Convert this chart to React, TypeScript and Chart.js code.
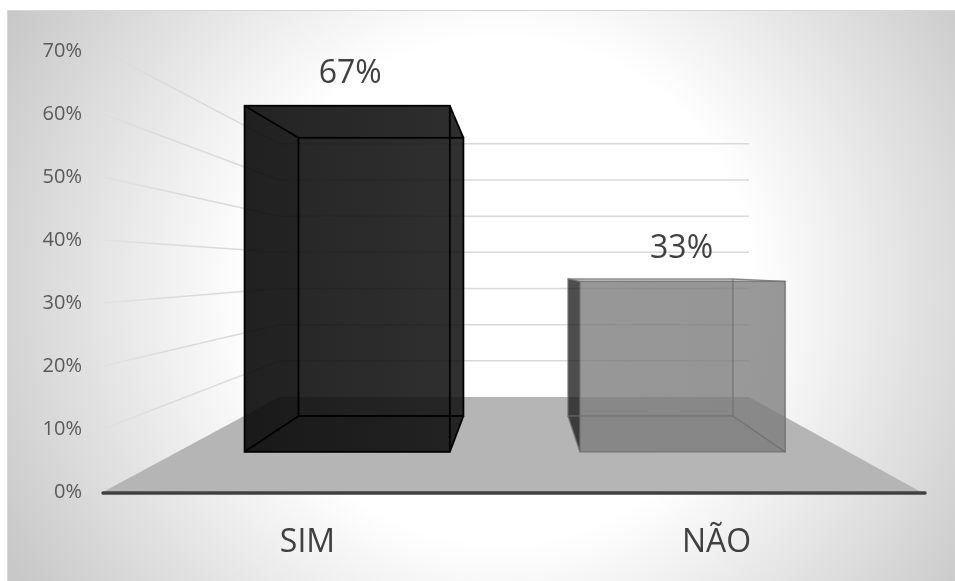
import React, { useEffect, useRef } from "react";
import { Chart, registerables } from "chart.js";

Chart.register(...registerables);

// Survey result shown as two perspective columns.
const categories = ["SIM", "NÃO"];
const shares = [67, 33];
const shareLabels = ["67%", "33%"];

const WIDTH = 955;
const HEIGHT = 581;
const FONT = '"Open Sans", sans-serif';

// Perspective set-up: every point is pulled towards the vanishing point by a depth factor.
const VANISH_X = 517;
const VANISH_Y = 269;
const DEPTH_WALL = 0.574;
const DEPTH_BAR_FRONT = 0.82;
const DEPTH_BAR_BACK = 0.659;
const BAR_SHIFT = 2;
const LABEL_NUDGE = [3, -1];

type Pt = [number, number];
const project = (x: number, y: number, k: number, shift = 0): Pt => [
  VANISH_X + (x - VANISH_X) * k + shift,
  VANISH_Y + (y - VANISH_Y) * k,
];

function fillPoly(ctx: CanvasRenderingContext2D, pts: Pt[], fill: string | CanvasGradient) {
  ctx.beginPath();
  pts.forEach((p, i) => (i ? ctx.lineTo(p[0], p[1]) : ctx.moveTo(p[0], p[1])));
  ctx.closePath();
  ctx.fillStyle = fill;
  ctx.fill();
}

function strokeLine(ctx: CanvasRenderingContext2D, a: Pt, b: Pt) {
  ctx.beginPath();
  ctx.moveTo(a[0], a[1]);
  ctx.lineTo(b[0], b[1]);
  ctx.stroke();
}

type BarStyle = {
  back: string;
  bottom: string;
  top: string;
  left: string;
  right: string;
  frontFrom: string;
  frontTo: string;
  edge: string;
  edgeWidth: number;
};

const barStyles: BarStyle[] = [
  {
    back: "rgba(0,0,0,0.4)",
    bottom: "rgba(0,0,0,0.5)",
    top: "rgba(40,40,40,0.5)",
    left: "rgba(10,10,10,0.5)",
    right: "rgba(24,24,24,0.82)",
    frontFrom: "rgba(8,8,8,0.8)",
    frontTo: "rgba(20,20,20,0.8)",
    edge: "#000000",
    edgeWidth: 1.8,
  },
  {
    back: "rgba(110,110,110,0.2)",
    bottom: "rgba(90,90,90,0.18)",
    top: "rgba(110,110,110,0.2)",
    left: "rgba(20,20,20,0.72)",
    right: "rgba(110,110,110,0.1)",
    frontFrom: "rgba(125,125,125,0.74)",
    frontTo: "rgba(125,125,125,0.76)",
    edge: "rgba(110,110,110,0.8)",
    edgeWidth: 1.4,
  },
];

const perspectivePlugin = {
  id: "perspective",
  beforeDraw(chart: any) {
    const { ctx } = chart;
    ctx.save();
    const g = ctx.createRadialGradient(500, 290, 0, 500, 290, 560);
    g.addColorStop(0, "#ffffff");
    g.addColorStop(0.45, "#ffffff");
    g.addColorStop(1, "#c8c8c8");
    ctx.fillStyle = "#ffffff";
    ctx.fillRect(0, 0, WIDTH, HEIGHT);
    ctx.fillStyle = g;
    ctx.fillRect(7, 10, WIDTH - 7, HEIGHT - 10);
    ctx.fillStyle = "#d6d6d6";
    ctx.fillRect(7, 10, WIDTH - 7, 1);
    ctx.fillRect(7, 10, 1, HEIGHT - 10);
    ctx.restore();
  },
  beforeDatasetsDraw(chart: any) {
    const { ctx, chartArea, scales } = chart;
    const yScale = scales.y;
    const floorY = yScale.getPixelForValue(0);
    ctx.save();

    // Floor of the box
    fillPoly(ctx, [
      [chartArea.left, floorY],
      [chartArea.right, floorY],
      project(chartArea.right, floorY, DEPTH_WALL),
      project(chartArea.left, floorY, DEPTH_WALL),
    ], "#b5b5b5");

    // Gridlines on the side wall and on the back wall
    ctx.lineWidth = 1.5;
    yScale.ticks.forEach((tick: any) => {
      if (tick.value === 0) return;
      const y = yScale.getPixelForValue(tick.value);
      const a: Pt = [chartArea.left, y];
      const b = project(chartArea.left, y, DEPTH_WALL);
      const c = project(chartArea.right, y, DEPTH_WALL);
      const fade = ctx.createLinearGradient(a[0], a[1], b[0], b[1]);
      fade.addColorStop(0, "rgba(217,217,217,0.3)");
      fade.addColorStop(0.35, "rgba(217,217,217,0.9)");
      fade.addColorStop(1, "rgba(217,217,217,1)");
      ctx.strokeStyle = fade;
      strokeLine(ctx, a, b);
      ctx.strokeStyle = "#d9d9d9";
      strokeLine(ctx, b, c);
    });
    ctx.restore();
  },
  afterDatasetsDraw(chart: any) {
    const { ctx, chartArea, scales } = chart;
    const floorY = scales.y.getPixelForValue(0);
    const bars = chart.getDatasetMeta(0).data;
    ctx.save();

    bars.forEach((bar: any, i: number) => {
      const s = barStyles[i];
      const l = bar.x - bar.width / 2;
      const r = bar.x + bar.width / 2;
      const t = bar.y;
      const b = bar.base;
      const f = (x: number, y: number) => project(x, y, DEPTH_BAR_FRONT, BAR_SHIFT);
      const k = (x: number, y: number) => project(x, y, DEPTH_BAR_BACK, BAR_SHIFT);
      const [fl, ft] = f(l, t);
      const [fr, fb] = f(r, b);

      fillPoly(ctx, [k(l, t), k(r, t), k(r, b), k(l, b)], s.back);
      fillPoly(ctx, [f(l, b), f(r, b), k(r, b), k(l, b)], s.bottom);
      fillPoly(ctx, [f(l, t), f(r, t), k(r, t), k(l, t)], s.top);
      fillPoly(ctx, [f(l, t), k(l, t), k(l, b), f(l, b)], s.left);
      fillPoly(ctx, [f(r, t), k(r, t), k(r, b), f(r, b)], s.right);

      const front = ctx.createLinearGradient(fl, ft, fr, ft);
      front.addColorStop(0, s.frontFrom);
      front.addColorStop(1, s.frontTo);
      fillPoly(ctx, [f(l, t), f(r, t), f(r, b), f(l, b)], front);

      // Box edges
      ctx.strokeStyle = s.edge;
      ctx.lineWidth = s.edgeWidth;
      ctx.strokeRect(k(l, t)[0], k(l, t)[1], k(r, b)[0] - k(l, t)[0], k(r, b)[1] - k(l, t)[1]);
      strokeLine(ctx, f(l, t), k(l, t));
      strokeLine(ctx, f(r, t), k(r, t));
      strokeLine(ctx, f(l, b), k(l, b));
      strokeLine(ctx, f(r, b), k(r, b));
      ctx.strokeRect(fl, ft, fr - fl, fb - ft);

      // Value above the column
      ctx.fillStyle = "#404040";
      ctx.font = `32px ${FONT}`;
      ctx.textAlign = "center";
      ctx.textBaseline = "middle";
      ctx.fillText(shareLabels[i], (fl + fr) / 2 + LABEL_NUDGE[i], ft - 32);
    });

    // Baseline of the category axis
    ctx.strokeStyle = "#404040";
    ctx.lineWidth = 3.5;
    ctx.lineCap = "round";
    strokeLine(ctx, [chartArea.left, floorY + 1], [chartArea.right + 4, floorY + 1]);
    ctx.restore();
  },
};

export default function App() {
  const ref = useRef<HTMLCanvasElement>(null);

  useEffect(() => {
    const chart = new Chart(ref.current!, {
      type: "bar",
      data: {
        labels: categories,
        datasets: [
          {
            data: shares,
            backgroundColor: "rgba(0,0,0,0)",
            borderWidth: 0,
            barPercentage: 0.612,
            categoryPercentage: 1,
          },
        ],
      },
      options: {
        responsive: false,
        animation: false,
        layout: { padding: { top: 51, right: 34, left: 0, bottom: 0 } },
        plugins: { legend: { display: false }, tooltip: { enabled: false } },
        scales: {
          x: {
            grid: { display: false, drawTicks: false },
            border: { display: false },
            afterFit: (scale: any) => {
              scale.height = 89;
            },
            ticks: {
              color: "#404040",
              padding: 32,
              maxRotation: 0,
              font: { family: FONT, size: 32 },
            },
          },
          y: {
            min: 0,
            max: 70,
            grid: { display: false, drawTicks: false },
            border: { display: false },
            afterFit: (scale: any) => {
              scale.width = 103;
            },
            ticks: {
              stepSize: 10,
              color: "#595959",
              padding: 21,
              font: { family: FONT, size: 20 },
              callback: (v: any) => `${v}%`,
            },
          },
        },
      },
      plugins: [perspectivePlugin],
    } as any);
    return () => chart.destroy();
  }, []);

  return (
    <div style={{ position: "fixed", left: 0, top: 0, width: WIDTH, height: HEIGHT }}>
      <canvas ref={ref} width={WIDTH} height={HEIGHT} style={{ display: "block" }} />
    </div>
  );
}
